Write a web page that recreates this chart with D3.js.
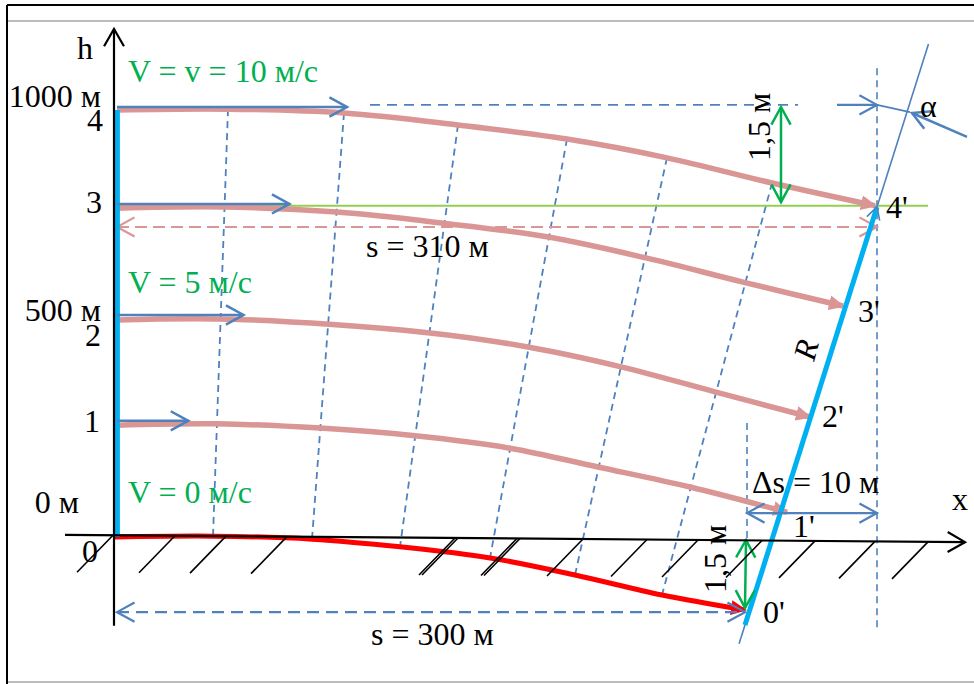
<!DOCTYPE html>
<html>
<head>
<meta charset="utf-8">
<script src="https://cdn.jsdelivr.net/npm/d3@7"></script>
<style>
  body { margin: 0; background: #fff; }
  svg { display: block; }
  text { font-family: "Liberation Serif", "Times New Roman", serif; font-size: 32px; }
</style>
</head>
<body>
<script>
// --- data (x in drawing units along the ground, h in metres) ---
const levelH = [0, 265, 513, 773, 1000];
const levelNames = ["0", "1", "2", "3", "4"];
const heightLabels = ["0 м", "", "500 м", "", "1000 м"];
const speedLabels = ["V = 0 м/с", "", "V = 5 м/с", "", "V = v = 10 м/с"];
const windSpeed = [0, 3.1, 5.5, 7.5, 10];

// trajectories of points 0..4 -> 0'..4'
const traj0 = [[0, 0], [49, 2], [98.5, -5], [142.5, -23], [187.5, -49], [230, -89], [273.5, -136], [315, -171]];
const traj1 = [[1, 262], [51, 265], [102.5, 255], [150, 237], [197.5, 208], [241.5, 164], [287.5, 117], [336, 58]];
const traj2 = [[1, 508], [59, 510], [157.5, 478], [206.5, 445], [253.5, 398], [300, 340], [347.5, 281]];
const traj3 = [[1, 770], [54, 773], [111, 761], [164, 735], [216, 703], [266, 653], [314, 597], [364, 541]];
const traj4 = [[1, 1000], [56.5, 1002], [114.5, 993], [171.5, 965], [226, 932], [276, 888], [328.5, 829], [380, 776]];

// line R (bottom, top) and its thin extension as fractions along it
const rLine = [[315, -206], [381, 773]];
const rThin = [-0.045, 1.39];

// ground hatch positions
const hatchX = [-1, 30, 55.5, 86, 170, 171.5, 201, 202.5, 234, 266, 291.5, 323.5, 350, 380, 406.5];
const xAxisEnds = [[-25, 5], [425, -12]];

// dimensions
const s310 = { h: 726, from: 1, to: 381 };
const s300 = { h: -176, from: 1, to: 315 };
const dS = { h: 56, from: 316, to: 381 };
const dimTexts = ["s = 310 м", "s = 300 м", "Δs = 10 м", "1,5 м"];
const endNames = ["0'", "1'", "2'", "3'", "4'"];

// --- setup ---
const W = 974, H = 684;
const x = d3.scaleLinear().domain([0, 381]).range([115, 877]);
const y = d3.scaleLinear().domain([0, 1000]).range([537, 110]);
const vLen = d3.scaleLinear().domain([0, 10]).range([0, 115]);
const P = (d) => [x(d[0]), y(d[1])];

const C = {
  pink: "#D99694", blue: "#4F81BD", sky: "#00B0F0",
  green: "#00B050", lime: "#92D050", red: "#FF0000", grey: "#A6A6A6"
};

const svg = d3.select("body").append("svg").attr("width", W).attr("height", H);

const defs = svg.append("defs");
[["pinkHead", C.pink], ["redHead", C.red]].forEach(([id, col]) => {
  defs.append("marker")
    .attr("id", id)
    .attr("markerUnits", "userSpaceOnUse")
    .attr("viewBox", "0 -8 16 16")
    .attr("refX", 14).attr("refY", 0)
    .attr("markerWidth", 16).attr("markerHeight", 16)
    .attr("orient", "auto")
    .append("path").attr("d", "M0,-7.5L16,0L0,7.5Z").attr("fill", col);
});

function seg(a, b, color, w, dash) {
  const l = svg.append("line")
    .attr("x1", a[0]).attr("y1", a[1]).attr("x2", b[0]).attr("y2", b[1])
    .attr("stroke", color).attr("stroke-width", w);
  if (dash) l.attr("stroke-dasharray", dash);
  return l;
}

// open chevron at tip, pointing away from "from"
function head(tip, from, color, w, len = 20, spread = 0.5) {
  const a = Math.atan2(tip[1] - from[1], tip[0] - from[0]);
  const p1 = [tip[0] - len * Math.cos(a - spread), tip[1] - len * Math.sin(a - spread)];
  const p2 = [tip[0] - len * Math.cos(a + spread), tip[1] - len * Math.sin(a + spread)];
  svg.append("path")
    .attr("d", `M${p1}L${tip}L${p2}`)
    .attr("fill", "none").attr("stroke", color).attr("stroke-width", w);
}

function arrow(a, b, color, w, opts = {}) {
  seg(a, b, color, w, opts.dash);
  if (opts.end !== false) head(b, a, color, w, opts.len);
  if (opts.start) head(a, b, color, w, opts.len);
}

// --- frame ---
seg([7, 5], [W, 5], "#000", 2);
seg([7, 21], [W, 21], C.grey, 1.5);
seg([7, 682], [W, 682], C.grey, 1.5);
seg([7, 5], [7, H], "#000", 2);

// --- isochrones (dashed, linking equal-time points top to bottom) ---
for (let i = 1; i <= 6; i++) {
  seg(P(traj4[i]), P(traj0[i]), C.blue, 1.8, "7,5");
}

// vertical dashed guides
seg(P([316, 267]), P([316, -7]), C.blue, 1.6, "7,5");
seg(P([381, 1098]), P([381, -218]), C.blue, 1.6, "7,5");

// top horizontal dashed
seg(P([127.5, 1012]), P([341.5, 1012]), C.blue, 1.8, "10,7");

// level of 4' (green line)
const h4end = traj4[traj4.length - 1][1];
seg(P([0, h4end]), P([406.5, h4end]), C.lime, 2);

// s = 310 m (pink dashed, both ends)
arrow(P([s310.from, s310.h]), P([s310.to, s310.h]), C.pink, 2.2, { dash: "12,6", start: true });

// --- trajectories ---
const line = d3.line().x((d) => x(d[0])).y((d) => y(d[1])).curve(d3.curveCatmullRom.alpha(0.5));
[traj1, traj2, traj3, traj4].forEach((t) => {
  svg.append("path").attr("d", line(t))
    .attr("fill", "none").attr("stroke", C.pink).attr("stroke-width", 5.5)
    .attr("marker-end", "url(#pinkHead)");
});
svg.append("path").attr("d", line(traj0))
  .attr("fill", "none").attr("stroke", C.red).attr("stroke-width", 5)
  .attr("marker-end", "url(#redHead)");

// initial column 0..4
seg(P([1.2, 0]), P([1.2, levelH[4]]), C.sky, 5);

// line R
const rAt = (t) => [rLine[0][0] + t * (rLine[1][0] - rLine[0][0]), rLine[0][1] + t * (rLine[1][1] - rLine[0][1])];
seg(P(rAt(rThin[0])), P(rAt(rThin[1])), C.blue, 1.6);
seg(P(rLine[0]), P(rLine[1]), C.sky, 5);
head(P(rLine[1]), P(rLine[0]), C.blue, 1.6, 14);

// wind vectors at levels 1..4
for (let i = 1; i < levelH.length; i++) {
  const a = [x(1), y(levelH[i]) - 3];
  const b = [x(1 + vLen(windSpeed[i])), y(levelH[i]) - 3];
  arrow(a, b, C.blue, 2.5);
}

// s = 300 m (blue dashed)
arrow(P([s300.from, s300.h]), P([s300.to, s300.h]), C.blue, 2.2, { dash: "12,7", start: true });

// delta s = 10 m
arrow(P([dS.from, dS.h]), P([dS.to, dS.h]), C.blue, 2.2, { start: true });

// top right: incoming arrow and angle alpha
arrow(P([361, 1012]), P([381, 1012]), C.blue, 2.2);
seg(P([381, 1012]), P([397.5, 995]), C.blue, 1.8);
arrow(P([426, 937]), P([398.5, 993]), C.blue, 2.5);

// green 1.5 m double arrows
arrow(P([333, 1007]), P([333, 784.5]), C.green, 2.5, { start: true });
arrow(P([315.5, -7]), P([315, -166]), C.green, 2.5, { start: true });

// --- axes ---
seg(P([-0.5, -208]), P([-0.5, 1190]), "#000", 2.2);
head(P([-0.5, 1190]), P([-0.5, 0]), "#000", 2.2, 20, 0.52);
seg(P(xAxisEnds[0]), P(xAxisEnds[1]), "#000", 2.2);
head(P(xAxisEnds[1]), P(xAxisEnds[0]), "#000", 2.2, 20, 0.52);

// ground hatching
const groundH = d3.scaleLinear().domain([xAxisEnds[0][0], xAxisEnds[1][0]]).range([xAxisEnds[0][1], xAxisEnds[1][1]]);
hatchX.forEach((hx) => {
  const top = P([hx, groundH(hx)]);
  seg(top, [top[0] - 36, top[1] + 37], "#000", 1.6);
});

// --- texts ---
function label(t, px, py, opts = {}) {
  const el = svg.append("text").text(t)
    .attr("fill", opts.color || "#000")
    .attr("text-anchor", opts.anchor || "start");
  if (opts.italic) el.attr("font-style", "italic");
  if (opts.rotate !== undefined) {
    el.attr("transform", `translate(${px},${py}) rotate(${opts.rotate})`);
  } else {
    el.attr("x", px).attr("y", py);
  }
  return el;
}

const numberDy = [25, 8, 28, 6, 21];
const heightDy = [-24, 0, 3, 0, -3];
const speedDy = [-34, 0, -25, 0, -28];
levelH.forEach((h, i) => {
  const ly = y(h);
  label(levelNames[i], i === 0 ? 98 : 103 - (4 - i), ly + numberDy[i], { anchor: "end" });
  if (heightLabels[i]) label(heightLabels[i], i === 0 ? 79 : 101, ly + heightDy[i], { anchor: "end" });
  if (speedLabels[i]) label(speedLabels[i], 128, ly + speedDy[i], { color: C.green });
});

label("h", 77, 59);
label("x", 952, 510);
label(dimTexts[0], 366, 257);
label(dimTexts[1], 371, 645);
label(dimTexts[2], 752, 493);
label(dimTexts[3], 726, 593, { rotate: -90 });
label(dimTexts[3], 770, 161, { rotate: -90 });
label("R", 814, 362, { rotate: -75, italic: true });
label("α", 920, 117);

// names of end points, next to the arrow tips on R
const tips = [traj0, traj1, traj2, traj3, traj4].map((t) => P(t[t.length - 1]));
const tipOffsets = [[18, 13], [6, 25], [12, 10], [15, 16], [11, 12]];
tips.forEach((p, i) => label(endNames[i], p[0] + tipOffsets[i][0], p[1] + tipOffsets[i][1]));
</script>
</body>
</html>
